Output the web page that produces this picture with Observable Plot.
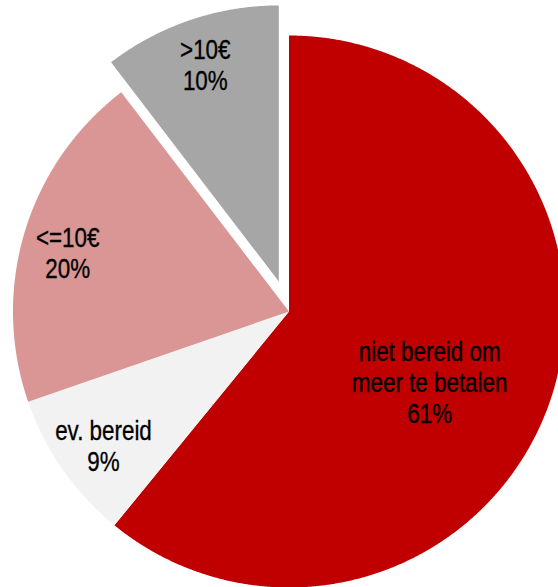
<!DOCTYPE html>
<html><head><meta charset="utf-8">
<script src="https://cdn.jsdelivr.net/npm/d3@7"></script>
<script src="https://cdn.jsdelivr.net/npm/@observablehq/plot@0.6"></script>
<style>html,body{margin:0;padding:0;background:#fff;overflow:hidden}</style>
</head><body><div id="chart"></div>
<script>
// ---- data ----
const categories = ["niet bereid om meer te betalen", "ev. bereid", "<=10€", ">10€"];
const labelText = ["niet bereid om\nmeer te betalen", "ev. bereid", "<=10€", ">10€"];
const values = [60.9, 8.8, 19.9, 10.4];
const percentLabels = ["61%", "9%", "20%", "10%"];
const explodedSlices = [">10€"];
const colors = ["#c00000", "#f2f2f2", "#d99694", "#a6a6a6"];

// ---- layout ----
const W = 558, H = 587, cx = 288.5, cy = 311, R = 276;
const explodeOffset = 0.115;            // fraction of radius
const labelRadius = 0.83;               // fraction of radius
const labelTweak = {"niet bereid om meer te betalen": {r: 0.57, da: 7}, "<=10€": {da: -1.8}, "ev. bereid": {da: -1}};
const font = "'Liberation Sans', Arial, sans-serif";
const narrow = 0.8;                     // horizontal squeeze to mimic Arial Narrow

const total = d3.sum(values);
const slicePts = [];
const labelData = [];
let cum = 0;
categories.forEach((c, i) => {
  const a0 = cum / total * 2 * Math.PI;
  cum += values[i];
  const a1 = cum / total * 2 * Math.PI;
  const mid = (a0 + a1) / 2;
  const off = explodedSlices.includes(c) ? explodeOffset : 0;
  const ox = off * Math.sin(mid), oy = off * Math.cos(mid);
  slicePts.push({cat: c, x: ox, y: oy});
  const n = Math.max(2, Math.ceil((a1 - a0) / (Math.PI / 720)));
  for (let k = 0; k <= n; k++) {
    const a = a0 + (a1 - a0) * k / n;
    slicePts.push({cat: c, x: ox + Math.sin(a), y: oy + Math.cos(a)});
  }
  slicePts.push({cat: c, x: ox, y: oy});
  const t = labelTweak[c] || {};
  const lr = t.r ?? labelRadius;
  const la = mid + (t.da ?? 0) * Math.PI / 180;
  labelData.push({cat: c, x: ox + lr * Math.sin(la), y: oy + lr * Math.cos(la), text: labelText[i] + "\n" + percentLabels[i]});
});

const chart = Plot.plot({
  width: W, height: H,
  margin: 0,
  x: {type: "linear", domain: [-1, 1], range: [cx - R, cx + R], axis: null},
  y: {type: "linear", domain: [-1, 1], range: [cy + R, cy - R], axis: null},
  color: {domain: categories, range: colors},
  style: {background: "#fff"},
  marks: [
    Plot.line(slicePts, {x: "x", y: "y", z: "cat", fill: "cat", stroke: null, curve: "linear"}),
    Plot.text(labelData, {x: "x", y: "y", text: "text", fontSize: 28, lineHeight: 1.1, fill: "#000",
      stroke: "#000", strokeWidth: 0.35, paintOrder: "fill", fontFamily: font})
  ]
});
// squeeze label glyphs horizontally (narrow face is not installed)
chart.querySelectorAll("text").forEach(t => {
  let tr = t.getAttribute("transform") || "";
  const x = t.getAttribute("x"), y = t.getAttribute("y");
  if (x != null || y != null) {
    tr += ` translate(${x || 0},${y || 0})`;
    t.removeAttribute("x"); t.removeAttribute("y");
  }
  t.setAttribute("transform", `${tr} scale(${narrow},1)`);
});
document.getElementById("chart").appendChild(chart);
</script>
</body></html>
